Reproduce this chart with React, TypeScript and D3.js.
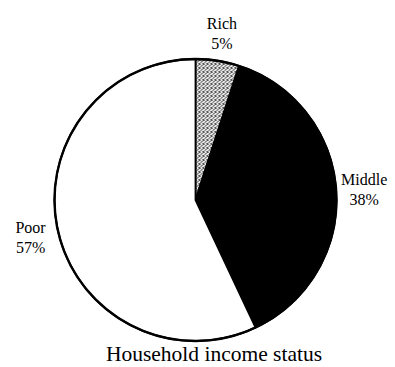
import React from "react";
import * as d3 from "d3";

const categories = ["Rich", "Middle", "Poor"];
const values = [5, 38, 57];
const percentLabels = ["5%", "38%", "57%"];
const title = "Household income status";

const W = 395;
const H = 367;
const CX = 195.5;
const CY = 200;
const R = 141;
const LABEL_R = 169;
const fills = ["url(#stipple)", "#000000", "#ffffff"];
const FONT = "'Liberation Serif', 'Times New Roman', Times, serif";

export default function App() {
  const pie = d3
    .pie<number>()
    .sort(null)
    .value((d) => d);
  const arcs = pie(values);
  const arc = d3.arc<d3.PieArcDatum<number>>().innerRadius(0).outerRadius(R);
  const labelArc = d3
    .arc<d3.PieArcDatum<number>>()
    .innerRadius(LABEL_R)
    .outerRadius(LABEL_R);

  return (
    <svg
      width={W}
      height={H}
      style={{ position: "absolute", left: 0, top: 0, background: "#fff" }}
    >
      <defs>
        <pattern id="stipple" width="4" height="4" patternUnits="userSpaceOnUse">
          <rect width="4" height="4" fill="#e6e6e6" />
          <rect x="0" y="0" width="1" height="1" fill="#333" />
          <rect x="2" y="1" width="1" height="1" fill="#333" />
          <rect x="1" y="2" width="1" height="1" fill="#555" />
          <rect x="3" y="3" width="1" height="1" fill="#333" />
          <rect x="3" y="0" width="1" height="1" fill="#777" />
          <rect x="0" y="3" width="1" height="1" fill="#777" />
        </pattern>
      </defs>
      <g transform={`translate(${CX},${CY})`}>
        {arcs.map((a, i) => (
          <path
            key={categories[i]}
            d={arc(a) || ""}
            fill={fills[i]}
            stroke="#000"
            strokeWidth={1.8}
            strokeLinejoin="round"
          />
        ))}
        <circle r={R} fill="none" stroke="#000" strokeWidth={2.4} />
        {arcs.map((a, i) => {
          const [x, y] = labelArc.centroid(a);
          return (
            <text
              key={"l" + categories[i]}
              x={x}
              y={y}
              textAnchor="middle"
              style={{ fontFamily: FONT, fontSize: "16px" }}
              fill="#000"
            >
              <tspan x={x} dy={-4}>
                {categories[i]}
              </tspan>
              <tspan x={x} dy={20}>
                {percentLabels[i]}
              </tspan>
            </text>
          );
        })}
      </g>
      <text
        x={214}
        y={361}
        textAnchor="middle"
        style={{ fontFamily: FONT, fontSize: "21.5px" }}
        fill="#000"
      >
        {title}
      </text>
    </svg>
  );
}
